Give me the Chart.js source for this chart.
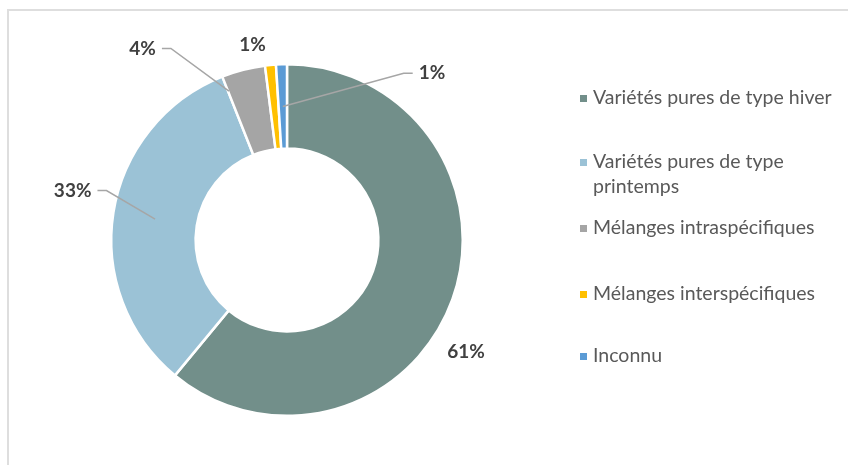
<!DOCTYPE html>
<html><head><meta charset="utf-8">
<script src="https://cdn.jsdelivr.net/npm/chart.js@4"></script>
<style>
html,body{margin:0;padding:0;background:#fff;}
#wrap{position:relative;width:848px;height:465px;}
#frame{position:absolute;left:7px;top:9px;width:850px;height:470px;border:2px solid #dedede;box-sizing:border-box;}
canvas{position:absolute;left:0;top:0;}
</style></head>
<body><div id="wrap"><div id="frame"></div><canvas id="c" width="848" height="465"></canvas></div>
<script>
const categories = ["Variétés pures de type hiver", "Variétés pures de type printemps", "Mélanges intraspécifiques", "Mélanges interspécifiques", "Inconnu"];
const legendLines = [["Variétés pures de type hiver"], ["Variétés pures de type", "printemps"], ["Mélanges intraspécifiques"], ["Mélanges interspécifiques"], ["Inconnu"]];
const values = [61, 33, 4, 1, 1];
const valueLabels = ["61%", "33%", "4%", "1%", "1%"];
const colors = ["#728f8a", "#9bc2d6", "#a5a5a5", "#ffc000", "#5b9bd5"];

// label placement (polar, relative to the doughnut): ang in degrees clockwise from top, rf = factor of outer radius
const placement = [
  {ang:122, rf:1.206, line:null},
  {ang:283, rf:1.257, line:{side:'right', t:0.5, rf:0.5}},
  {ang:323, rf:1.371, line:{side:'right', t:0.02, rf:0.81}},
  {ang:350, rf:1.131, line:null},
  {ang:41,  rf:1.263, line:{side:'left', t:0.5, rf:0.5}}
];
const legendY = [98, 162, 228, 294, 356];

const labelPlugin = {
  id:'outLabels',
  afterDatasetsDraw(chart){
    const ctx = chart.ctx;
    const meta = chart.getDatasetMeta(0);
    ctx.save();
    ctx.font = 'bold 19px Lato, "Open Sans", sans-serif';
    ctx.textAlign = 'center';
    ctx.textBaseline = 'middle';
    meta.data.forEach((arc, i) => {
      const p = arc.getProps(['x','y','startAngle','endAngle','innerRadius','outerRadius'], true);
      const pl = placement[i];
      const a = (pl.ang - 90) * Math.PI/180;
      const R = 175;
      const lx = p.x + Math.cos(a) * R * pl.rf;
      const ly = p.y + Math.sin(a) * R * pl.rf;
      const txt = valueLabels[i];
      const w = ctx.measureText(txt).width;
      if (pl.line) {
        const aa = p.startAngle + (p.endAngle - p.startAngle) * pl.line.t;
        const rr = p.innerRadius + (p.outerRadius - p.innerRadius) * pl.line.rf;
        const ax = p.x + Math.cos(aa) * rr, ay = p.y + Math.sin(aa) * rr;
        const sx = pl.line.side === 'right' ? lx + w/2 + 6 : lx - w/2 - 6;
        const ex = pl.line.side === 'right' ? sx + 9 : sx - 9;
        ctx.strokeStyle = '#a6a6a6';
        ctx.lineWidth = 1.5;
        ctx.beginPath();
        ctx.moveTo(sx, ly); ctx.lineTo(ex, ly); ctx.lineTo(ax, ay);
        ctx.stroke();
      }
      ctx.fillStyle = '#404040';
      ctx.fillText(txt, lx, ly);
    });
    // legend
    ctx.font = '19.5px Lato, "Open Sans", sans-serif';
    ctx.textAlign = 'left';
    legendLines.forEach((lines, i) => {
      const y = legendY[i];
      ctx.fillStyle = colors[i];
      ctx.fillRect(580, y - 3, 7, 7);
      ctx.fillStyle = '#595959';
      lines.forEach((ln, j) => ctx.fillText(ln, 593, y + j * 25));
    });
    ctx.restore();
  }
};

new Chart(document.getElementById('c'), {
  type:'doughnut',
  data:{labels:categories, datasets:[{data:values, backgroundColor:colors, borderColor:'#ffffff', borderWidth:2.5}]},
  options:{
    responsive:false, animation:false, cutout:'52%',
    layout:{padding:{left:110, right:384, top:63, bottom:48}},
    plugins:{legend:{display:false}, tooltip:{enabled:false}}
  },
  plugins:[labelPlugin]
});
</script></body></html>
